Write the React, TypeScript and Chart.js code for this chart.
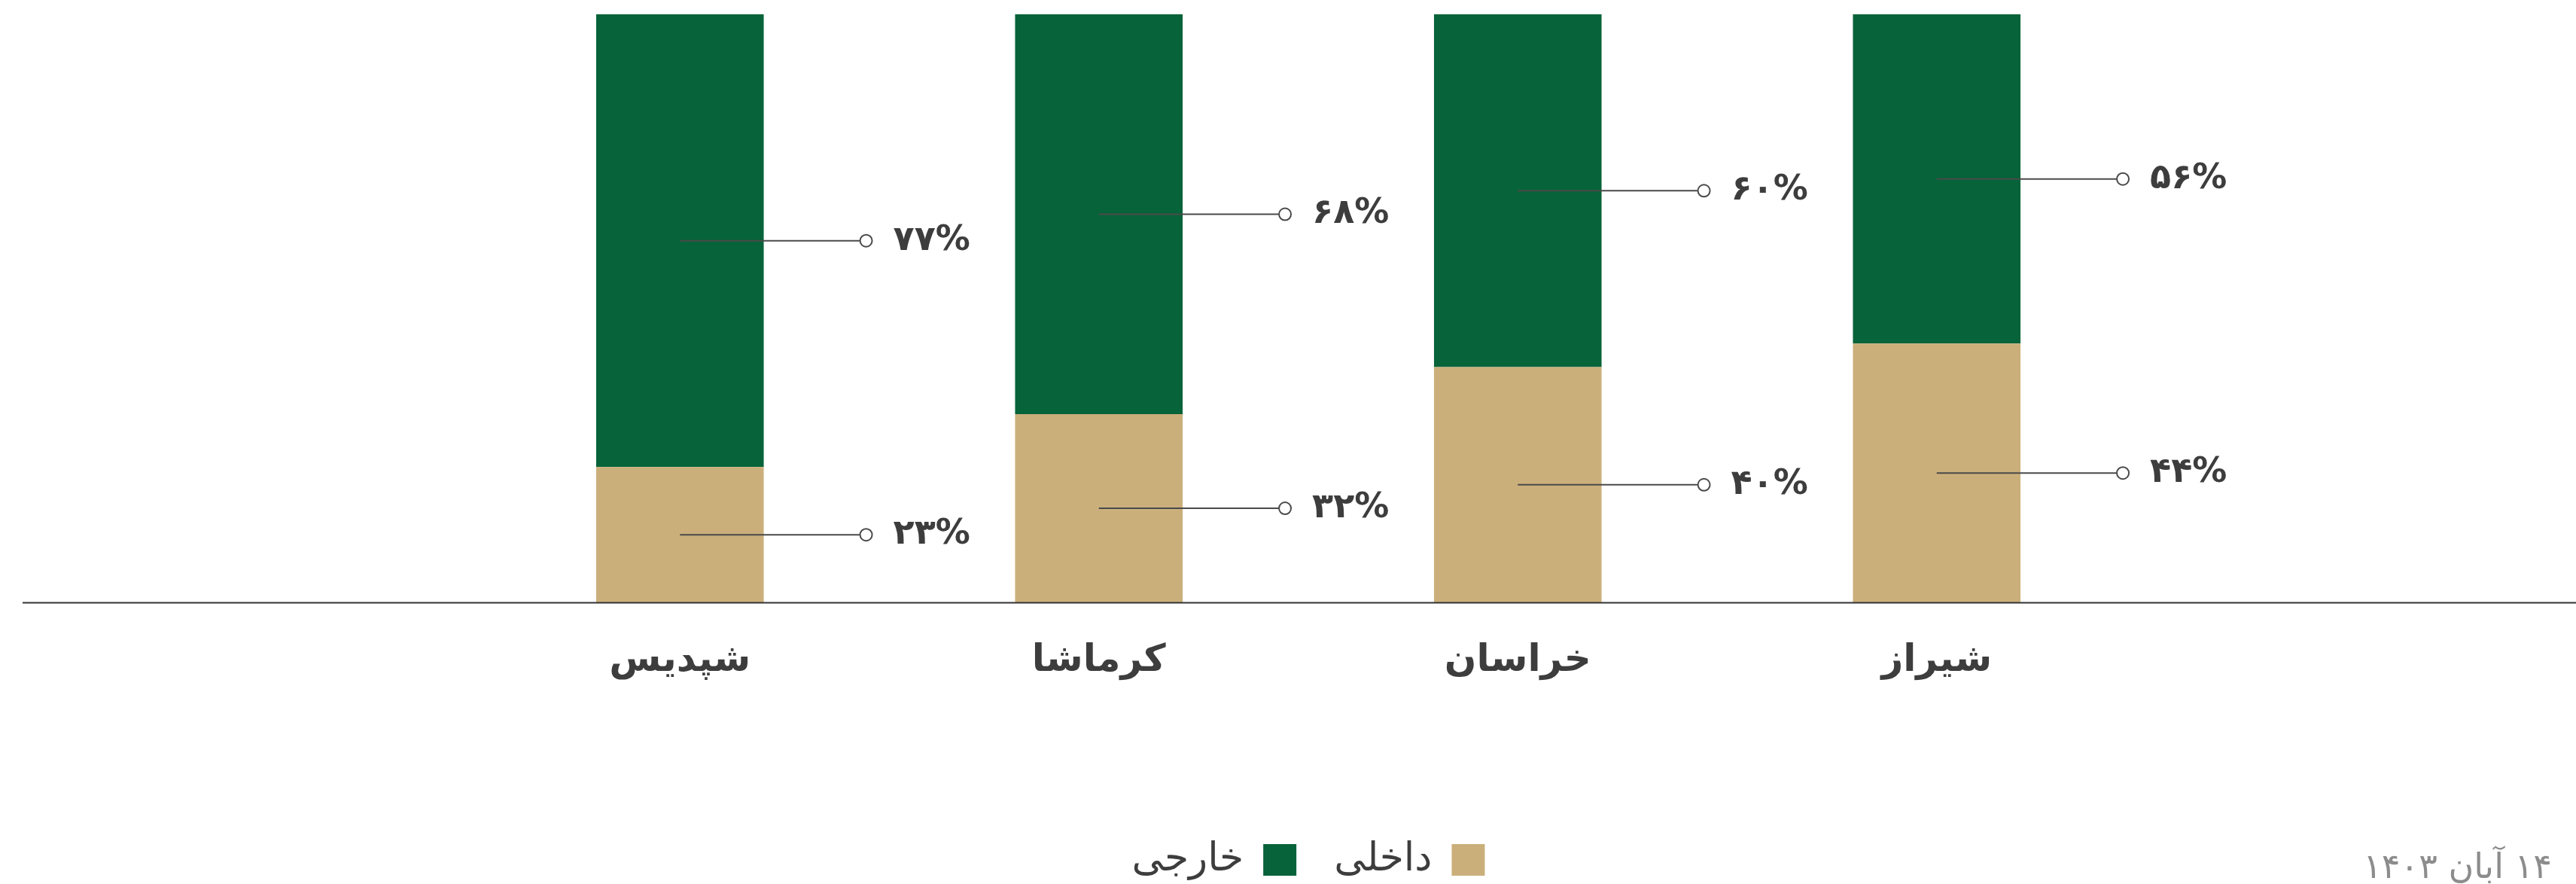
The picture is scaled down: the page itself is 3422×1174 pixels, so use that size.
import React, { useEffect, useRef } from "react";
import { Chart, registerables } from "chart.js";

Chart.register(...registerables);

const categories = ["شپدیس", "کرماشا", "خراسان", "شیراز"];
const domesticValues = [23, 32, 40, 44];
const foreignValues = [77, 68, 60, 56];
const seriesNames = ["داخلی", "خارجی"];
const dateLabel = "۱۴ آبان ۱۴۰۳";

const GREEN = "#076339";
const TAN = "#CBAF7B";
const TEXT = "#3d3d3d";
const FONT = "'DejaVu Sans', 'Noto Sans', sans-serif";

const toFa = (s: string) => s.replace(/[0-9]/g, (d) => "۰۱۲۳۴۵۶۷۸۹"[Number(d)]);

const leaderPlugin = {
  id: "leaders",
  afterDatasetsDraw(chart: any) {
    const ctx = chart.ctx;
    const yScale = chart.scales.y;
    const baseY = yScale.getPixelForValue(0);
    ctx.save();
    // baseline
    ctx.strokeStyle = "#333333";
    ctx.lineWidth = 2;
    ctx.beginPath();
    ctx.moveTo(30, baseY + 0.5);
    ctx.lineTo(chart.width, baseY + 0.5);
    ctx.stroke();

    chart.data.datasets.forEach((ds: any, di: number) => {
      const meta = chart.getDatasetMeta(di);
      meta.data.forEach((bar: any, i: number) => {
        const v = ds.data[i];
        const midY = (bar.y + bar.base) / 2;
        const right = bar.x + bar.width / 2;
        const cx = right + 136;
        ctx.strokeStyle = "#4a4a4a";
        ctx.lineWidth = 2;
        ctx.beginPath();
        ctx.moveTo(bar.x, midY);
        ctx.lineTo(cx - 8, midY);
        ctx.stroke();
        ctx.beginPath();
        ctx.arc(cx, midY, 8, 0, Math.PI * 2);
        ctx.fillStyle = "#ffffff";
        ctx.fill();
        ctx.stroke();
        ctx.fillStyle = TEXT;
        ctx.font = `bold 46px ${FONT}`;
        ctx.textAlign = "left";
        ctx.textBaseline = "middle";
        ctx.direction = "ltr";
        ctx.fillText(toFa(String(v)) + "%", cx + 36, midY);
      });
    });
    ctx.restore();
  },
};

function BarChart() {
  const ref = useRef<HTMLCanvasElement | null>(null);
  useEffect(() => {
    if (!ref.current) return;
    const chart = new Chart(ref.current, {
      type: "bar",
      data: {
        labels: categories,
        datasets: [
          { label: seriesNames[0], data: domesticValues, backgroundColor: TAN, borderWidth: 0 },
          { label: seriesNames[1], data: foreignValues, backgroundColor: GREEN, borderWidth: 0 },
        ],
      },
      options: {
        animation: false,
        responsive: false,
        maintainAspectRatio: false,
        layout: { padding: { left: 625, right: 571, top: 19, bottom: -4 } },
        datasets: { bar: { categoryPercentage: 0.8, barPercentage: 0.5 } },
        scales: {
          x: {
            stacked: true,
            grid: { display: false, drawTicks: false },
            border: { display: false },
            ticks: {
              padding: 48,
              color: TEXT,
              font: { family: FONT, size: 50, weight: "bold" },
            },
            afterFit: (s: any) => {
              s.height = 266;
            },
          },
          y: { stacked: true, min: 0, max: 100, display: false },
        },
        plugins: {
          legend: {
            position: "bottom",
            rtl: true,
            labels: {
              color: TEXT,
              font: { family: FONT, size: 52 },
              boxWidth: 44,
              boxHeight: 42,
              padding: 50,
            },
          },
          tooltip: { enabled: false },
        },
      },
      plugins: [leaderPlugin],
    });
    return () => chart.destroy();
  }, []);
  return <canvas ref={ref} width={3422} height={1174} style={{ display: "block" }} />;
}

export default function App() {
  return (
    <div style={{ position: "fixed", left: 0, top: 0, width: 3422, height: 1174, background: "#fff" }}>
      <BarChart />
      <div
        dir="rtl"
        style={{
          position: "absolute",
          right: 32,
          top: 1124,
          fontFamily: FONT,
          fontSize: 46,
          color: "#8c8c8c",
          lineHeight: "52px",
          whiteSpace: "nowrap",
        }}
      >
        {dateLabel}
      </div>
    </div>
  );
}
